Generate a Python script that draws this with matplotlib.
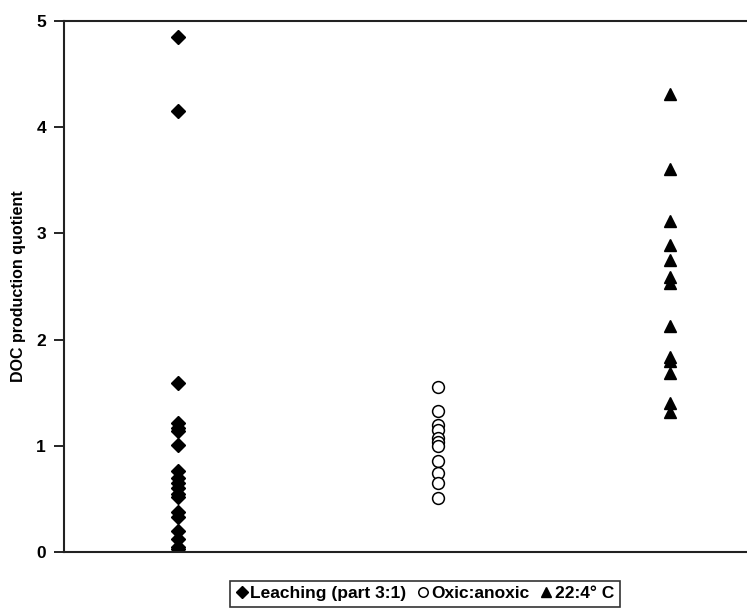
import matplotlib.pyplot as plt
import numpy as np

# DOC production quotient per treatment
leaching = [4.85, 4.15, 1.59, 1.21, 1.17, 1.14, 1.01, 0.76, 0.70, 0.65,
            0.60, 0.55, 0.52, 0.38, 0.33, 0.20, 0.12, 0.05, 0.03]
oxic_anoxic = [1.55, 1.33, 1.20, 1.15, 1.07, 1.04, 1.00, 0.86, 0.74, 0.65, 0.51]
temp_22_4 = [4.31, 3.61, 3.12, 2.89, 2.75, 2.59, 2.53, 2.13, 1.84, 1.80,
             1.69, 1.40, 1.32]

x_pos = [1, 2, 2.89]
labels = ["Leaching (part 3:1)", "Oxic:anoxic", "22:4\u00b0 C"]

plt.rcParams['font.family'] = ['Liberation Sans', 'DejaVu Sans']
plt.rcParams['font.weight'] = 'bold'

fig = plt.figure(figsize=(7.47, 6.08), dpi=100)
ax = fig.add_axes([64 / 747, 1 - 552 / 608, 1 - 64 / 747, (552 - 21) / 608])

ax.plot(np.full(len(leaching), x_pos[0]), leaching, 'D', color='black',
        markersize=7.5, linestyle='none', label=labels[0])
ax.plot(np.full(len(oxic_anoxic), x_pos[1]), oxic_anoxic, 'o', markerfacecolor='white',
        markeredgecolor='black', markeredgewidth=1.1, markersize=8.5,
        linestyle='none', label=labels[1])
ax.plot(np.full(len(temp_22_4), x_pos[2]), temp_22_4, '^', color='black',
        markersize=9, linestyle='none', label=labels[2])

ax.set_xlim(0.5615, 3.188)
ax.set_ylim(0, 5)
ax.set_yticks([0, 1, 2, 3, 4, 5])
ax.set_xticks([])
ax.tick_params(axis='y', direction='out', length=7, width=1.2, labelsize=12.5, pad=6)
for lbl in ax.get_yticklabels():
    lbl.set_fontweight('bold')
ax.set_ylabel("DOC production quotient", fontsize=11.5, fontweight='bold')
ax.yaxis.set_label_coords(-0.056, 0.5)

ax.spines['right'].set_visible(False)
for s in ['left', 'top', 'bottom']:
    ax.spines[s].set_linewidth(1.5)
    ax.spines[s].set_color('#222222')

leg = fig.legend(loc='upper center', bbox_to_anchor=(425 / 747, 1 - 581 / 608),
                 ncol=3, frameon=True, fancybox=False, edgecolor='black',
                 prop={'weight': 'bold', 'size': 12.5}, handletextpad=0.15,
                 columnspacing=0.6, handlelength=0.7, borderpad=0.3,
                 markerscale=0.8, borderaxespad=0)
leg.get_frame().set_linewidth(1.2)

fig.savefig("out.png", dpi=100)
